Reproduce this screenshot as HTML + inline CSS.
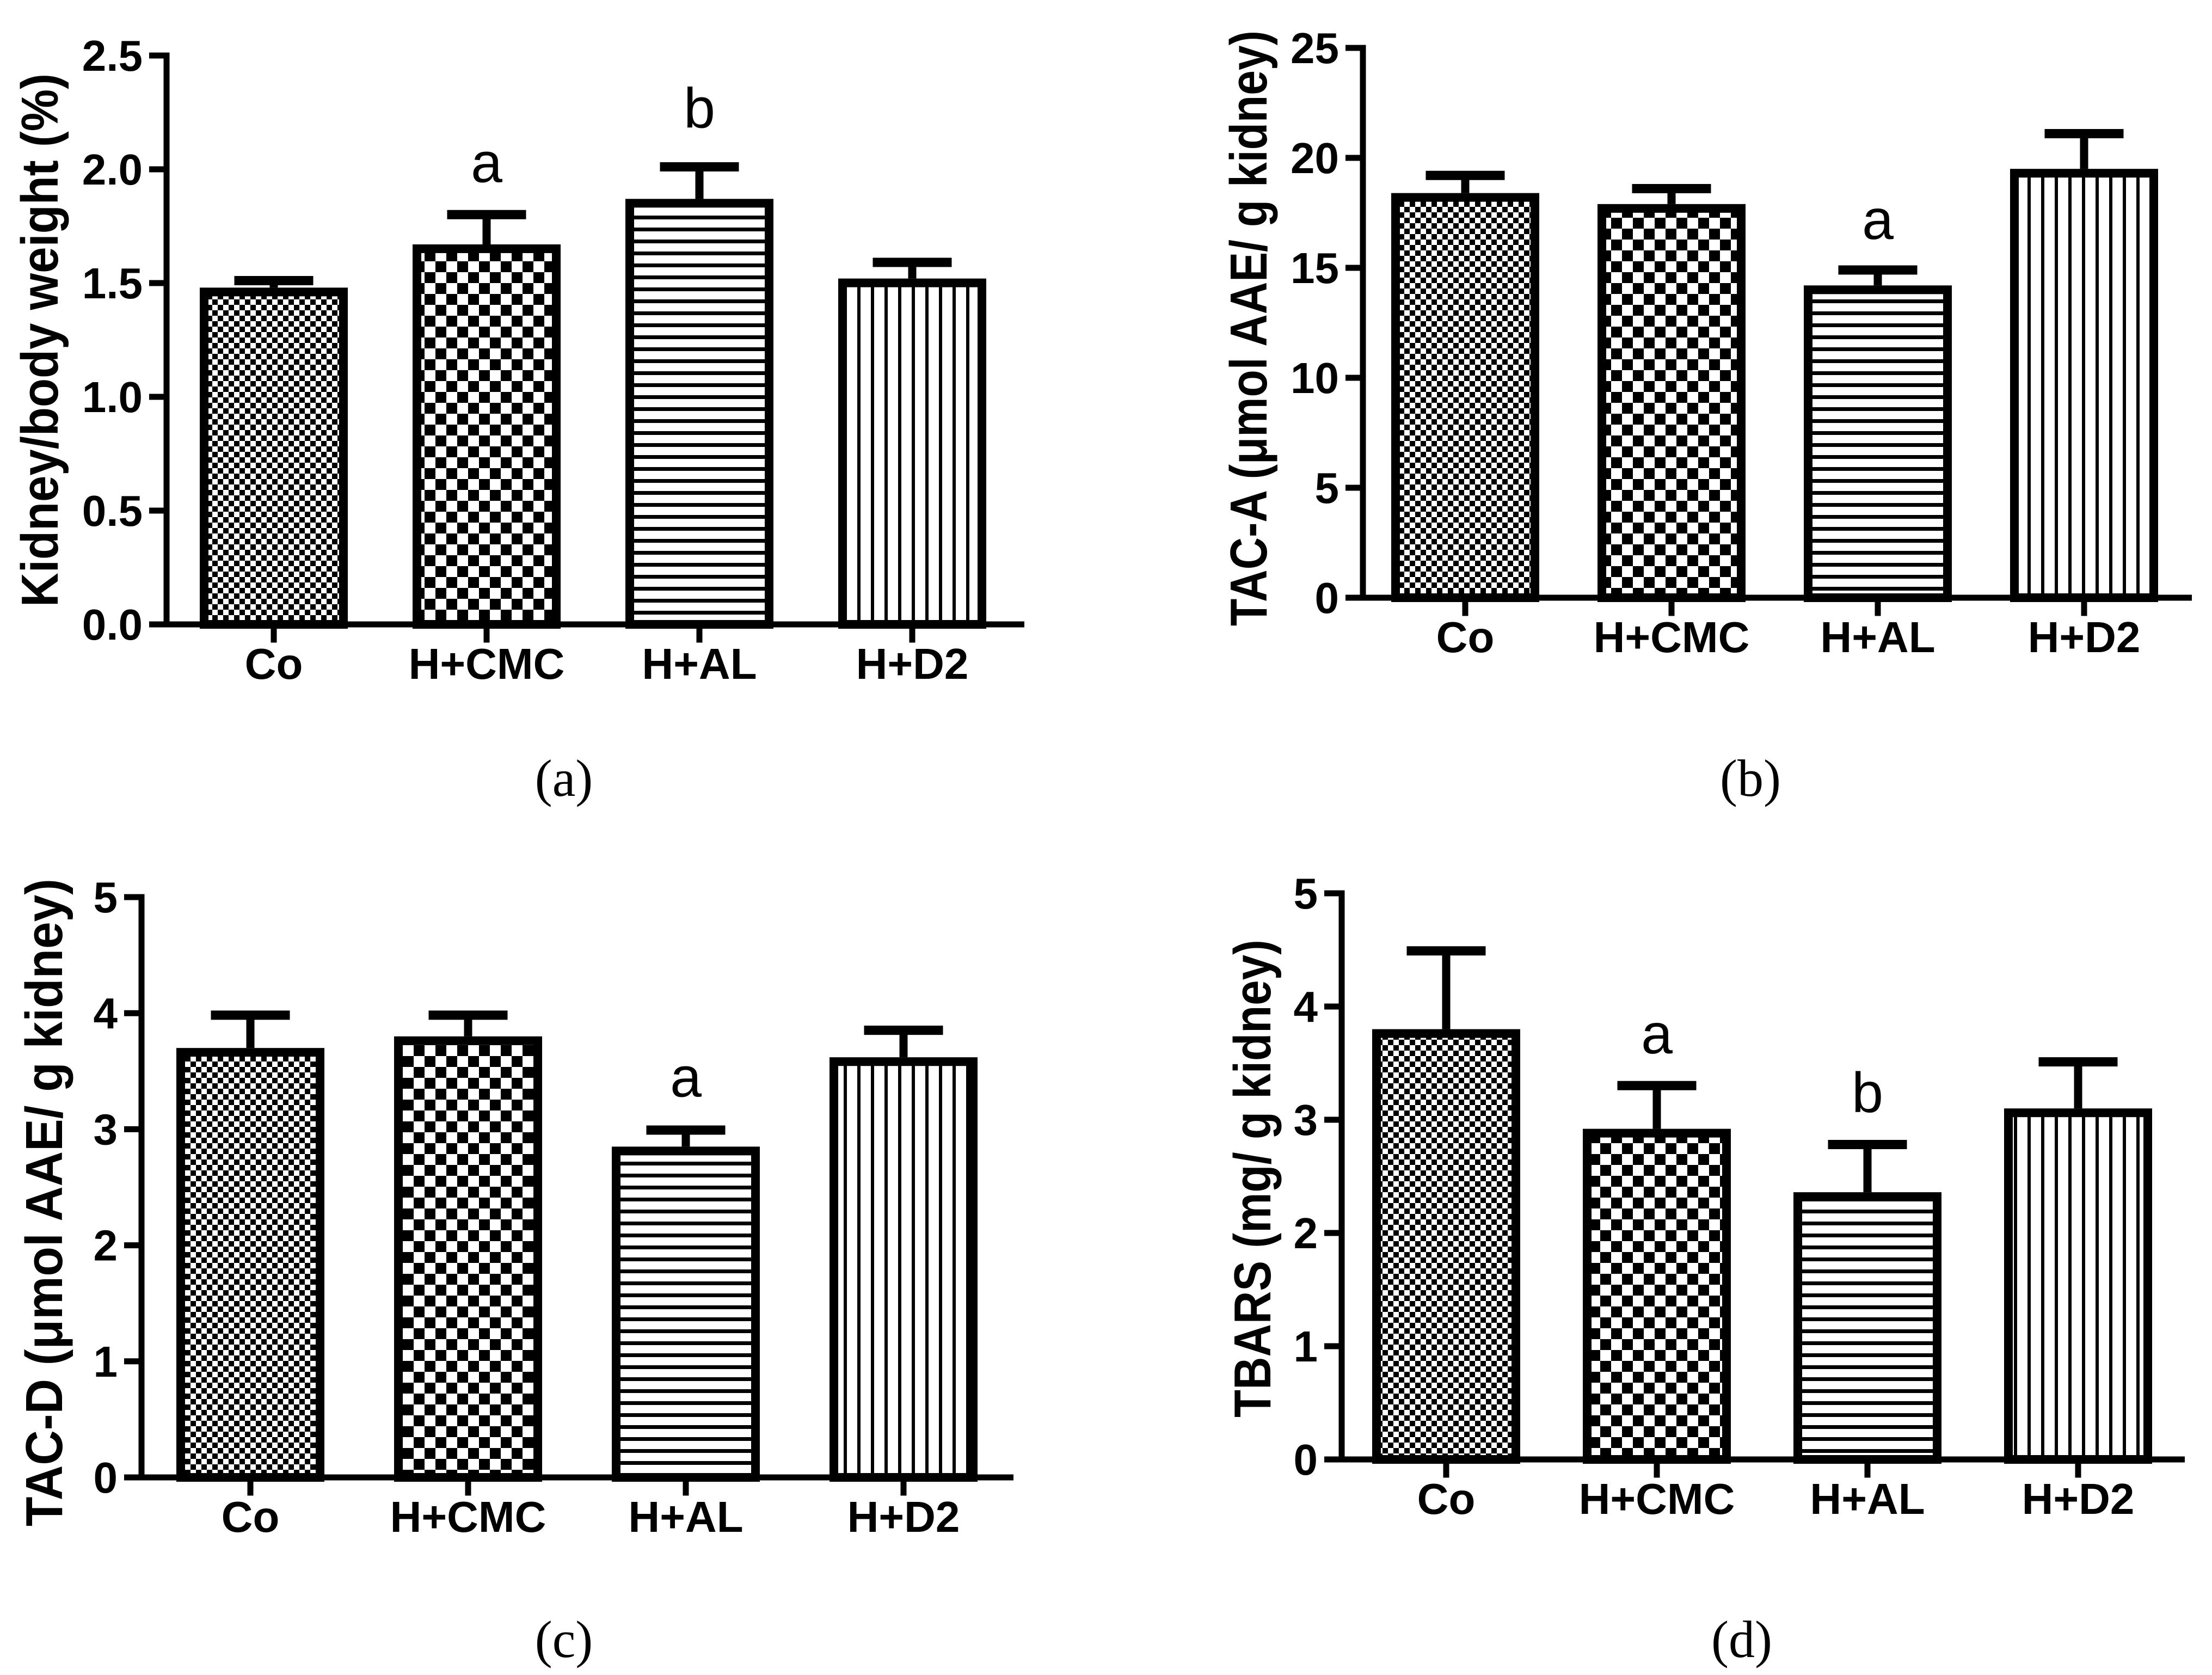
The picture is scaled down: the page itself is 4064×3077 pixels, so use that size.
<!DOCTYPE html>
<html>
<head>
<meta charset="utf-8">
<style>
html,body{margin:0;padding:0;background:#fff;}
svg{display:block;}
text{font-family:"Liberation Sans",Arial,sans-serif;fill:#000;}
</style>
</head>
<body>
<svg id="fig" width="4064" height="3077" viewBox="0 0 4064 3077" xmlns="http://www.w3.org/2000/svg">
<defs>
  <pattern id="pat-co" patternUnits="userSpaceOnUse" width="20" height="20">
    <rect width="20" height="20" fill="#fff"/>
    <rect x="0" y="0" width="10" height="10" fill="#000"/>
    <rect x="10" y="10" width="10" height="10" fill="#000"/>
  </pattern>
  <pattern id="pat-cmc" patternUnits="userSpaceOnUse" width="40" height="40">
    <rect width="40" height="40" fill="#fff"/>
    <rect x="0" y="0" width="20" height="20" fill="#000"/>
    <rect x="20" y="20" width="20" height="20" fill="#000"/>
  </pattern>
  <pattern id="pat-al" patternUnits="userSpaceOnUse" width="22" height="22">
    <rect width="22" height="22" fill="#fff"/>
    <rect x="0" y="0" width="22" height="7" fill="#000"/>
  </pattern>
  <pattern id="pat-d2" patternUnits="userSpaceOnUse" width="25" height="25">
    <rect width="25" height="25" fill="#fff"/>
    <rect x="0" y="0" width="6" height="25" fill="#000"/>
  </pattern>
</defs>
</svg>
<script>
// ---- data ----
const categories = ["Co", "H+CMC", "H+AL", "H+D2"];
const patterns = ["pat-co", "pat-cmc", "pat-al", "pat-d2"];

const kidneyMeans = [1.48, 1.67, 1.87, 1.52];
const kidneyErrTop = [1.53, 1.82, 2.03, 1.61];
const kidneyTicks = ["0.0", "0.5", "1.0", "1.5", "2.0", "2.5"];
const kidneyTickVals = [0, 0.5, 1.0, 1.5, 2.0, 2.5];
const kidneyLetters = ["", "a", "b", ""];

const tacAMeans = [18.4, 17.9, 14.2, 19.5];
const tacAErrTop = [19.4, 18.8, 15.1, 21.3];
const tacATicks = ["0", "5", "10", "15", "20", "25"];
const tacATickVals = [0, 5, 10, 15, 20, 25];
const tacALetters = ["", "", "a", ""];

const tacDMeans = [3.70, 3.80, 2.85, 3.62];
const tacDErrTop = [4.02, 4.02, 3.03, 3.89];
const tacDTicks = ["0", "1", "2", "3", "4", "5"];
const tacDTickVals = [0, 1, 2, 3, 4, 5];
const tacDLetters = ["", "", "a", ""];

const tbarsMeans = [3.80, 2.92, 2.36, 3.10];
const tbarsErrTop = [4.53, 3.34, 2.82, 3.55];
const tbarsTicks = ["0", "1", "2", "3", "4", "5"];
const tbarsTickVals = [0, 1, 2, 3, 4, 5];
const tbarsLetters = ["", "a", "b", ""];

// ---- layout ----
const NS = "http://www.w3.org/2000/svg";
const svg = document.getElementById("fig");
function mk(tag, attrs, parent) {
  const e = document.createElementNS(NS, tag);
  for (const k in attrs) e.setAttribute(k, attrs[k]);
  (parent || svg).appendChild(e);
  return e;
}

const panels = [
  {id:"a", title:"Kidney/body weight (%)", titleX:72, titleY:625, titleLen:980,
   axX:306, y0:1147, yTop:102, yMax:2.5, x0:503, step:391, xEnd:1882,
   means:kidneyMeans, errs:kidneyErrTop, ticks:kidneyTicks, tickVals:kidneyTickVals, letters:kidneyLetters,
   labX:1036, labY:1462, lab:"(a)", letterOffsets:[0,0.2,0.23,0]},
  {id:"b", title:"TAC-A (\u03bcmol AAE/ g kidney)", titleX:2293, titleY:603, titleLen:1094,
   axX:2504, y0:1098, yTop:88, yMax:25, x0:2692, step:379, xEnd:4027,
   means:tacAMeans, errs:tacAErrTop, ticks:tacATicks, tickVals:tacATickVals, letters:tacALetters,
   labX:3216, labY:1462, lab:"(b)", letterOffsets:[0,0,2.0,0]},
  {id:"c", title:"TAC-D (\u03bcmol AAE/ g kidney)", titleX:80, titleY:2209, titleLen:1190,
   axX:260, y0:2714, yTop:1648, yMax:5, x0:460, step:400, xEnd:1862,
   means:tacDMeans, errs:tacDErrTop, ticks:tacDTicks, tickVals:tacDTickVals, letters:tacDLetters,
   labX:1036, labY:3044, lab:"(c)", letterOffsets:[0,0,0.4,0]},
  {id:"d", title:"TBARS (mg/ g kidney)", titleX:2300, titleY:2165, titleLen:878,
   axX:2465, y0:2681, yTop:1641, yMax:5, x0:2657, step:387, xEnd:4014,
   means:tbarsMeans, errs:tbarsErrTop, ticks:tbarsTicks, tickVals:tbarsTickVals, letters:tbarsLetters,
   labX:3200, labY:3044, lab:"(d)", letterOffsets:[0,0.4,0.4,0]}
];

const BAR_W = 272, BAR_SW = 16, AX_W = 11, CAP_W = 145, ERR_W = 15, TICK = 32;

panels.forEach(p => {
  const g = mk("g", {});
  
  
  const yS = v => p.y0 - (v / p.yMax) * (p.y0 - p.yTop);
  const xS = i => p.x0 + i * p.step;

  p.means.forEach((m, i) => {
    const cx = xS(i);
    const top = yS(m);
    const ey = yS(p.errs[i]);
    const ev = mk("line", {x1:cx, x2:cx, y1:top, y2:ey, stroke:"#000", "stroke-width":ERR_W}, g);
    
    
    const cap = mk("line", {x1:cx - CAP_W/2, x2:cx + CAP_W/2, y1:ey + 8, y2:ey + 8, stroke:"#000", "stroke-width":17}, g);
    
    
    const r = mk("rect", {
      x: cx - BAR_W/2 + BAR_SW/2, y: top + BAR_SW/2,
      width: BAR_W - BAR_SW, height: Math.max(0, p.y0 - top - BAR_SW/2),
      fill: "url(#" + patterns[i] + ")", stroke: "#000", "stroke-width": BAR_SW
    }, g);
    
    
    if (p.letters[i]) {
      const t = mk("text", {x:cx, y:yS(p.errs[i] + p.letterOffsets[i]) + 32, "text-anchor":"middle", "font-size":"104"}, g);
      t.textContent = p.letters[i];
      
      
    }
  });

  const ya = mk("line", {x1:p.axX, x2:p.axX, y1:p.yTop - AX_W/2, y2:p.y0 + AX_W/2, stroke:"#000", "stroke-width":AX_W}, g);
  
  
  const xa = mk("line", {x1:p.axX - TICK, x2:p.xEnd, y1:p.y0, y2:p.y0, stroke:"#000", "stroke-width":AX_W}, g);
  
  

  p.tickVals.forEach((v, k) => {
    const y = yS(v);
    const tl = mk("line", {x1:p.axX - TICK, x2:p.axX, y1:y, y2:y, stroke:"#000", "stroke-width":AX_W}, g);
    
    
    const tt = mk("text", {x:p.axX - 44, y:y + 28, "text-anchor":"end", "font-size":"80", "font-weight":"bold"}, g);
    tt.textContent = p.ticks[k];
    
    
  });

  categories.forEach((c, i) => {
    const cx = xS(i);
    const tl = mk("line", {x1:cx, x2:cx, y1:p.y0, y2:p.y0 + AX_W/2 + 28, stroke:"#000", "stroke-width":AX_W}, g);
    
    
    const tt = mk("text", {x:cx, y:p.y0 + 100, "text-anchor":"middle", "font-size":"80", "font-weight":"bold"}, g);
    tt.textContent = c;
    
    
  });

  const yt = mk("text", {
    x: 0, y: 0, "text-anchor":"middle", "font-size":"96", "font-weight":"bold",
    textLength: p.titleLen, lengthAdjust:"spacingAndGlyphs",
    transform: "translate(" + (p.titleX + 34) + "," + p.titleY + ") rotate(-90)"
  }, g);
  yt.textContent = p.title;
  
  

  const pl = mk("text", {x:p.labX, y:p.labY, "text-anchor":"middle", "font-size":"96",
    style:'font-family:"Liberation Serif",serif'}, g);
  pl.textContent = p.lab;
  
  
});
</script>
</body>
</html>
